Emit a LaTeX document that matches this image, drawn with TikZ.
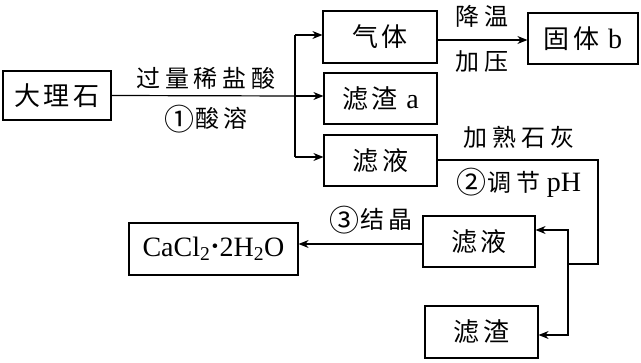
\documentclass[tikz,border=0pt]{standalone}
\usepackage{fontspec}
\setmainfont{Liberation Serif}
\newfontfamily\cjk[LetterSpace=12]{Noto Sans CJK SC}
\newfontfamily\cjkl[LetterSpace=20]{Noto Sans CJK SC}
\newcommand{\circnum}[1]{\raisebox{-2.5pt}{\fontsize{30}{30}\selectfont #1}\hspace{1pt}}
\usetikzlibrary{arrows.meta}
\begin{document}
\begin{tikzpicture}[x=1pt,y=-1pt,
  box/.style={draw,line width=1.2pt,inner sep=0pt,font=\fontsize{26}{26}\selectfont},
  lbl/.style={inner sep=0pt,font=\fontsize{24}{24}\selectfont},
  conn/.style={line width=1.2pt},
  arr/.style={line width=1.2pt,-{Stealth[length=10pt,width=8pt]}}]
\useasboundingbox (0,0) rectangle (641,363);
% boxes
\node[box,minimum width=108pt,minimum height=49pt] (dls) at (57,95.5) {\cjk 大理石};
\node[box,minimum width=114pt,minimum height=52pt] (qt) at (380,37) {\cjk 气体};
\node[box,minimum width=110pt,minimum height=51pt] (gtb) at (583,38.5) {{\cjk 固体}\hspace{9pt}{\fontsize{28}{28}\selectfont b}};
\node[box,minimum width=113pt,minimum height=51pt] (lza) at (380.5,98.5) {{\cjk 滤渣}\hspace{9pt}{\fontsize{28}{28}\selectfont a}};
\node[box,minimum width=113pt,minimum height=51pt] (lyt) at (380.5,160.5) {\cjk 滤液};
\node[box,minimum width=112pt,minimum height=51pt] (lyb) at (479,241.5) {\cjk 滤液};
\node[box,minimum width=113pt,minimum height=52pt] (lzb) at (481.5,332) {\cjk 滤渣};
\node[box,minimum width=169pt,minimum height=52pt] (cacl) at (213.5,249) {\fontsize{28}{28}\selectfont CaCl\textsubscript{2}\raisebox{0.05ex}{\textbf{·}}2H\textsubscript{2}O};
% labels
\node[lbl] (l1) at (206,78) {\cjkl 过量稀盐酸};
\node[lbl] (l2) at (206,119) {{\cjk\circnum{①}}{\cjkl 酸溶}};
\node[lbl] (l3) at (482,16) {\cjkl 降温};
\node[lbl] (l4) at (482,62) {\cjkl 加压};
\node[lbl] (l5) at (519,137) {\cjkl 加熟石灰};
\node[lbl] (l6) at (519,183) {{\cjk\circnum{②}}{\cjkl 调节}\hspace{6pt}{\fontsize{28}{28}\selectfont pH}};
\node[lbl] (l7) at (371,220) {{\cjk\circnum{③}}{\cjkl 结晶}};
% connectors
\coordinate (br) at (295,96);
\coordinate (bt) at (295,35);
\coordinate (bb) at (295,157);
\draw[conn] (dls.east) -- (br);
\draw[conn] (bt) -- (bb);
\draw[arr] (bt) -- (qt.west |- bt);
\draw[arr] (br) -- (lza.west |- br);
\draw[arr] (bb) -- (lyt.west |- bb);
\draw[arr] (qt.east |- 0,40) -- (gtb.west |- 0,40);
\coordinate (c0) at (437,160);
\coordinate (c1) at (598,160);
\coordinate (c2) at (598,264);
\coordinate (j) at (568,264);
\coordinate (ja) at (568,230);
\coordinate (jb) at (568,335);
\draw[conn] (lyt.east |- c0) -- (c1) -- (c2) -- (j);
\draw[arr] (j) -- (ja) -- (lyb.east |- ja);
\draw[arr] (j) -- (jb) -- (lzb.east |- jb);
\draw[arr] (lyb.west |- 0,244) -- (cacl.east |- 0,244);
\end{tikzpicture}
\end{document}
